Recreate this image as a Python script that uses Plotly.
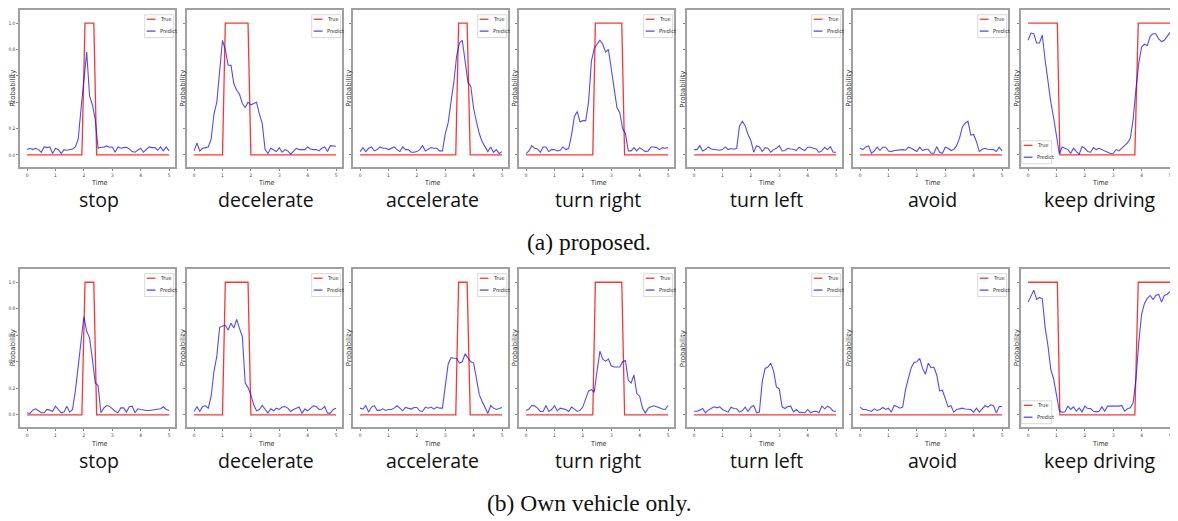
import plotly.graph_objects as go

W, H = 1178, 521          # browser window
OFF = 8                   # default body margin of the page
FW, FH = W - OFF, H - OFF # figure size that fits the window

# ---------------- data ----------------
time = [round(0.1 * i, 1) for i in range(51)]

labels = ["stop", "decelerate", "accelerate", "turn right", "turn left", "avoid", "keep driving"]
captions = ["(a) proposed.", "(b) Own vehicle only."]

# ground truth (step curves), shared by both rows
true_t_stop = [0, 1.93, 2.04, 2.35, 2.45, 5]
true_y_stop = [0, 0, 1, 1, 0, 0]
true_t_dec = [0, 1.0, 1.1, 1.9, 2.0, 5]
true_y_dec = [0, 0, 1, 1, 0, 0]
true_t_acc = [0, 3.37, 3.47, 3.77, 3.88, 5]
true_y_acc = [0, 0, 1, 1, 0, 0]
true_t_right = [0, 2.35, 2.44, 3.37, 3.47, 5]
true_y_right = [0, 0, 1, 1, 0, 0]
true_t_left = [0, 5]
true_y_left = [0, 0]
true_t_avoid = [0, 5]
true_y_avoid = [0, 0]
true_t_keep = [0, 1.03, 1.12, 3.76, 3.88, 5]
true_y_keep = [1, 1, 0, 0, 1, 1]

# (a) proposed
pred_a_stop = [0.04, 0.05, 0.04, 0.05, 0.04, 0.02, 0.06, 0.055, 0.06, 0.01,
               0.05, 0.04, 0.01, 0.04, 0.035, 0.04, 0.045, 0.06, 0.12, 0.35,
               0.58, 0.78, 0.45, 0.38, 0.27, 0.05, 0.058, 0.058, 0.068, 0.058,
               0.06, 0.02, 0.06, 0.05, 0.055, 0.058, 0.045, 0.025, 0.02, 0.033,
               0.05, 0.02, 0.04, 0.06, 0.055, 0.055, 0.035, 0.06, 0.03, 0.06,
               0.03]
pred_a_dec = [0.03, 0.09, 0.03, 0.05, 0.055, 0.06, 0.12, 0.31, 0.40, 0.65,
              0.87, 0.80, 0.68, 0.68, 0.54, 0.49, 0.46, 0.39, 0.36, 0.40,
              0.38, 0.39, 0.40, 0.31, 0.24, 0.04, 0.01, 0.05, 0.04, 0.025,
              0.055, 0.02, 0.04, 0.03, 0.005, 0.03, 0.05, 0.04, 0.04, 0.04,
              0.06, 0.045, 0.04, 0.04, 0.03, 0.05, 0.06, 0.025, 0.07, 0.07,
              0.065]
pred_a_acc = [0.025, 0.055, 0.025, 0.05, 0.06, 0.03, 0.04, 0.06, 0.05, 0.05,
              0.04, 0.05, 0.06, 0.04, 0.025, 0.06, 0.04, 0.04, 0.02, 0.02,
              0.025, 0.04, 0.07, 0.03, 0.045, 0.055, 0.05, 0.05, 0.03, 0.03,
              0.16, 0.24, 0.40, 0.55, 0.75, 0.85, 0.87, 0.71, 0.55, 0.52,
              0.35, 0.25, 0.16, 0.10, 0.06, 0.025, 0.06, 0.02, 0.04, 0.01,
              0.025]
pred_a_right = [0.01, 0.03, 0.07, 0.05, 0.045, 0.02, 0.06, 0.06, 0.025, 0.04,
                0.04, 0.03, 0.035, 0.06, 0.04, 0.05, 0.15, 0.29, 0.33, 0.25,
                0.26, 0.26, 0.40, 0.71, 0.81, 0.84, 0.87, 0.84, 0.78, 0.80,
                0.65, 0.52, 0.36, 0.32, 0.20, 0.16, 0.03, 0.03, 0.055, 0.03,
                0.055, 0.04, 0.025, 0.03, 0.06, 0.06, 0.055, 0.04, 0.055, 0.05,
                0.055]
pred_a_left = [0.04, 0.04, 0.07, 0.03, 0.04, 0.06, 0.045, 0.04, 0.04, 0.035,
               0.04, 0.06, 0.04, 0.048, 0.043, 0.05, 0.22, 0.255, 0.22, 0.155,
               0.11, 0.02, 0.07, 0.06, 0.025, 0.055, 0.05, 0.02, 0.04, 0.05,
               0.07, 0.03, 0.033, 0.05, 0.045, 0.043, 0.033, 0.058, 0.043, 0.033,
               0.058, 0.058, 0.05, 0.045, 0.02, 0.03, 0.058, 0.04, 0.062, 0.02,
               0.02]
pred_a_avoid = [0.05, 0.04, 0.06, 0.068, 0.0125, 0.03, 0.058, 0.033, 0.058, 0.058,
                0.03, 0.025, 0.033, 0.035, 0.04, 0.04, 0.035, 0.058, 0.05, 0.04,
                0.025, 0.058, 0.033, 0.043, 0.043, 0.0125, 0.0125, 0.0625, 0.02, 0.0125,
                0.058, 0.05, 0.033, 0.04, 0.07, 0.125, 0.21, 0.24, 0.255, 0.15,
                0.155, 0.10, 0.025, 0.043, 0.05, 0.043, 0.043, 0.04, 0.025, 0.058,
                0.03]
pred_a_keep = [0.87, 0.925, 0.92, 0.85, 0.85, 0.91, 0.72, 0.55, 0.40, 0.28,
               0.14, 0.01, 0.06, 0.05, 0.04, 0.0125, 0.05, 0.025, 0.005, 0.0625,
               0.05, 0.025, 0.02, 0.055, 0.04, 0.05, 0.04, 0.025, 0.02, 0.01,
               0.0125, 0.04, 0.03, 0.05, 0.0625, 0.09, 0.125, 0.27, 0.50, 0.70,
               0.82, 0.84, 0.83, 0.90, 0.92, 0.92, 0.88, 0.86, 0.87, 0.90,
               0.93]

# (b) own vehicle only
pred_b_stop = [0.015, 0.01, 0.035, 0.045, 0.03, 0.015, 0.015, 0.04, 0.035, 0.027,
               0.065, 0.04, 0.015, 0.02, 0.065, 0.02, 0.04, 0.18, 0.38, 0.58,
               0.74, 0.63, 0.58, 0.42, 0.24, 0.22, 0.015, 0.05, 0.07, 0.065,
               0.045, 0.027, 0.015, 0.052, 0.052, 0.02, 0.06, 0.065, 0.015, 0.045,
               0.04, 0.035, 0.032, 0.032, 0.035, 0.035, 0.04, 0.045, 0.06, 0.04,
               0.032]
pred_b_dec = [0.025, 0.06, 0.025, 0.0625, 0.068, 0.05, 0.14, 0.33, 0.44, 0.66,
              0.67, 0.675, 0.64, 0.69, 0.655, 0.72, 0.65, 0.59, 0.24, 0.205,
              0.15, 0.075, 0.03, 0.04, 0.07, 0.04, 0.0125, 0.045, 0.03, 0.05,
              0.04, 0.058, 0.0625, 0.05, 0.025, 0.04, 0.05, 0.058, 0.0125, 0.043,
              0.03, 0.05, 0.068, 0.0625, 0.04, 0.043, 0.0625, 0.0125, 0.0125, 0.04,
              0.05]
pred_b_acc = [0.05, 0.043, 0.07, 0.02, 0.058, 0.068, 0.033, 0.033, 0.045, 0.033,
              0.04, 0.04, 0.05, 0.068, 0.05, 0.03, 0.055, 0.05, 0.043, 0.055,
              0.055, 0.03, 0.025, 0.058, 0.05, 0.058, 0.043, 0.058, 0.05, 0.05,
              0.22, 0.38, 0.43, 0.425, 0.425, 0.39, 0.40, 0.46, 0.43, 0.40,
              0.39, 0.27, 0.15, 0.10, 0.05, 0.01, 0.07, 0.05, 0.04, 0.045,
              0.055]
pred_b_right = [0.033, 0.043, 0.07, 0.068, 0.05, 0.025, 0.025, 0.07, 0.025, 0.04,
                0.068, 0.03, 0.05, 0.045, 0.04, 0.025, 0.058, 0.043, 0.025, 0.033,
                0.06, 0.12, 0.18, 0.19, 0.17, 0.33, 0.48, 0.42, 0.405, 0.42,
                0.37, 0.36, 0.36, 0.36, 0.40, 0.41, 0.26, 0.24, 0.30, 0.16,
                0.14, 0.05, 0.0125, 0.05, 0.06, 0.068, 0.06, 0.05, 0.043, 0.04,
                0.07]
pred_b_left = [0.027, 0.027, 0.035, 0.047, 0.015, 0.035, 0.047, 0.06, 0.052, 0.06,
               0.04, 0.027, 0.02, 0.057, 0.047, 0.045, 0.02, 0.032, 0.057, 0.025,
               0.057, 0.07, 0.015, 0.02, 0.25, 0.35, 0.36, 0.39, 0.33, 0.21,
               0.195, 0.06, 0.047, 0.062, 0.065, 0.022, 0.04, 0.02, 0.02, 0.015,
               0.04, 0.015, 0.025, 0.027, 0.015, 0.065, 0.045, 0.065, 0.052, 0.027,
               0.027]
pred_b_avoid = [0.058, 0.04, 0.04, 0.035, 0.025, 0.045, 0.033, 0.04, 0.055, 0.04,
                0.05, 0.02, 0.07, 0.0625, 0.05, 0.058, 0.19, 0.275, 0.355, 0.395,
                0.40, 0.425, 0.35, 0.305, 0.39, 0.355, 0.36, 0.30, 0.18, 0.185,
                0.125, 0.06, 0.068, 0.02, 0.04, 0.043, 0.05, 0.043, 0.043, 0.04,
                0.02, 0.05, 0.02, 0.043, 0.068, 0.058, 0.075, 0.068, 0.0125, 0.0625,
                0.0625]
pred_b_keep = [0.85, 0.90, 0.94, 0.87, 0.885, 0.875, 0.66, 0.52, 0.34, 0.27,
               0.14, 0.03, 0.02, 0.022, 0.065, 0.04, 0.06, 0.027, 0.052, 0.022,
               0.065, 0.047, 0.047, 0.027, 0.022, 0.027, 0.06, 0.027, 0.065, 0.065,
               0.06, 0.065, 0.065, 0.07, 0.027, 0.045, 0.052, 0.09, 0.27, 0.55,
               0.76, 0.84, 0.88, 0.90, 0.87, 0.90, 0.91, 0.85, 0.90, 0.91,
               0.93]

true_t = [true_t_stop, true_t_dec, true_t_acc, true_t_right, true_t_left, true_t_avoid, true_t_keep]
true_y = [true_y_stop, true_y_dec, true_y_acc, true_y_right, true_y_left, true_y_avoid, true_y_keep]
pred = [
    [pred_a_stop, pred_a_dec, pred_a_acc, pred_a_right, pred_a_left, pred_a_avoid, pred_a_keep],
    [pred_b_stop, pred_b_dec, pred_b_acc, pred_b_right, pred_b_left, pred_b_avoid, pred_b_keep],
]
for row in pred:
    for s in row:
        assert len(s) == 51, len(s)

x_ticks = [0, 1, 2, 3, 4, 5]
y_ticks = [0.0, 0.2, 0.4, 0.6, 0.8, 1.0]
y_ticktext = ["0.0", "0.2", "0.4", "0.6", "0.8", "1.0"]

# ---------------- layout (window pixels) ----------------
PANEL_L = [20, 187, 353, 519, 687, 853, 1021]
PANEL_W = 155
ROW_TOP = [8, 268]
ROW_BOT = [166, 427]
TIME_Y = [182, 444]
LABEL_Y = [198, 460]
CAPTION_Y = [241, 503]

RED = "rgba(255,0,0,0.8)"
BLUE = "rgba(0,0,255,0.7)"
FRAME = "#a0a0a0"
SMALL_FONT = "Liberation Sans Narrow, DejaVu Sans Condensed, Liberation Sans, sans-serif"


def fx(px):
    return (px - OFF) / FW


def fy(py):
    return 1 - (py - OFF) / FH


fig = go.Figure()
shapes = []
annotations = []
layout = {}

for r in range(2):
    T, B = ROW_TOP[r], ROW_BOT[r]
    for c in range(7):
        k = r * 7 + c + 1
        L = PANEL_L[c]
        R = L + PANEL_W
        xs = "x" if k == 1 else f"x{k}"
        ys = "y" if k == 1 else f"y{k}"
        xname = "xaxis" if k == 1 else f"xaxis{k}"
        yname = "yaxis" if k == 1 else f"yaxis{k}"

        fig.add_trace(go.Scatter(x=true_t[c], y=true_y[c], mode="lines", name="True",
                                 line=dict(color=RED, width=1.3), xaxis=xs, yaxis=ys,
                                 showlegend=False, hoverinfo="skip"))
        fig.add_trace(go.Scatter(x=time, y=pred[r][c], mode="lines", name="Predict",
                                 line=dict(color=BLUE, width=1.1), xaxis=xs, yaxis=ys,
                                 showlegend=False))

        common = dict(showline=True, mirror=True, linecolor=FRAME, linewidth=1.5,
                      showgrid=False, zeroline=False, ticks="outside", ticklen=2,
                      tickwidth=0.7, tickcolor="#888",
                      tickfont=dict(size=4.8, color="#444", family=SMALL_FONT))
        layout[xname] = dict(common, domain=[fx(L), min(1.0, fx(R))], range=[-0.25, 5.21],
                             anchor=ys, tickvals=x_ticks)
        layout[yname] = dict(common, domain=[fy(B), min(1.0, fy(T))], range=[-0.095, 1.1],
                             anchor=xs, tickvals=y_ticks, ticktext=y_ticktext,
                             showticklabels=(c == 0))

        # axis titles
        annotations.append(dict(x=fx(L + 79), y=fy(TIME_Y[r]), xref="paper", yref="paper",
                                text="Time", showarrow=False, xanchor="center", yanchor="middle",
                                font=dict(size=7, color="#333", family=SMALL_FONT)))
        annotations.append(dict(x=fx(L - (7 if c == 0 else 4)), y=fy((T + B) / 2),
                                xref="paper", yref="paper", text="Probability",
                                showarrow=False, textangle=-90, xanchor="center",
                                yanchor="middle",
                                font=dict(size=7, color="#333", family="DejaVu Sans")))
        # category label
        annotations.append(dict(x=fx(L + 79), y=fy(LABEL_Y[r]), xref="paper", yref="paper",
                                text=labels[c], showarrow=False, xanchor="center",
                                yanchor="middle",
                                font=dict(size=19.5, color="#111", family="Open Sans")))

        # legend box (drawn)
        if c == 6:
            bx0, by0, bw = L + 0.7, B - 26.7, 30
        else:
            bx0, by0, bw = R - 30.3, T + 4.7, 29
        shapes.append(dict(type="rect", xref="paper", yref="paper",
                           x0=fx(bx0), x1=fx(bx0 + bw), y0=fy(by0 + 23), y1=fy(by0),
                           line=dict(color="#cfcfcf", width=0.8), fillcolor="white"))
        for name, col, dy in (("True", RED, 4.6), ("Predict", BLUE, 16.5)):
            shapes.append(dict(type="line", xref="paper", yref="paper",
                               x0=fx(bx0 + 2), x1=fx(bx0 + 10.8), y0=fy(by0 + dy), y1=fy(by0 + dy),
                               line=dict(color=col, width=1.3)))
            annotations.append(dict(x=fx(bx0 + 13), y=fy(by0 + dy), xref="paper", yref="paper",
                                    text=name, showarrow=False, xanchor="left", yanchor="middle",
                                    font=dict(size=5.5, color="#333", family=SMALL_FONT)))

    annotations.append(dict(x=fx(589), y=fy(CAPTION_Y[r]), xref="paper", yref="paper",
                            text=captions[r], showarrow=False, xanchor="center", yanchor="middle",
                            font=dict(size=23.5, color="#111", family="Liberation Serif")))

fig.update_layout(
    width=FW, height=FH, autosize=False,
    margin=dict(l=0, r=0, t=0, b=0),
    paper_bgcolor="white", plot_bgcolor="white",
    showlegend=False,
    shapes=shapes, annotations=annotations,
    **layout,
)

fig.write_html("out.html")
